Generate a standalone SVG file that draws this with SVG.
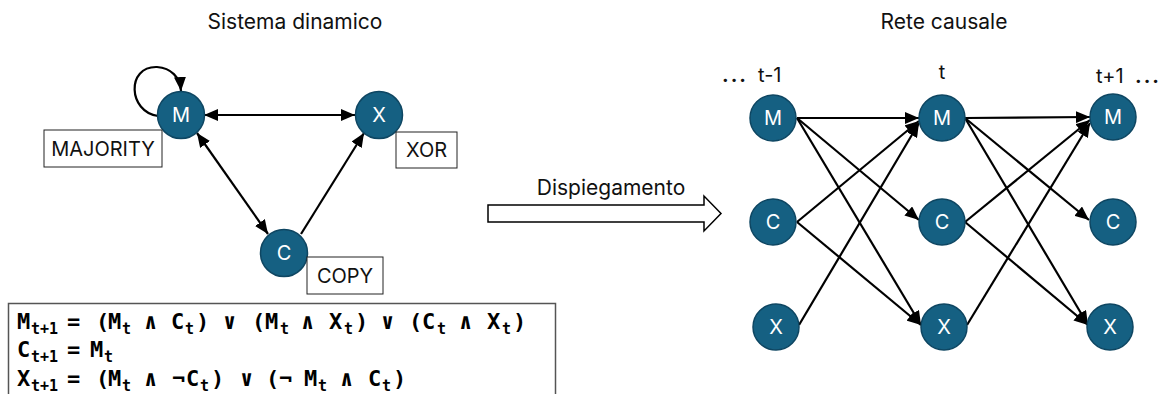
<svg xmlns="http://www.w3.org/2000/svg" width="1160" height="394" viewBox="0 0 1160 394">
  <defs>
    <marker id="arrow" viewBox="0 0 14 12" refX="14" refY="6" markerWidth="14" markerHeight="12" markerUnits="userSpaceOnUse" orient="auto-start-reverse">
      <path d="M0,0 L14,6 L0,12 Z" fill="#000"/>
    </marker>
  </defs>
  <style>
    .lbl { font-family: Inter, "Noto Sans", "Liberation Sans", sans-serif; fill: #111; }
    .title { font-size: 21px; }
    .time { font-size: 20px; }
    .dots { font-weight: bold; letter-spacing: 2px; }
    .node circle { fill: #156082; stroke: #0e4662; stroke-width: 1.5; }
    .node text { font-family: Inter, "Noto Sans", "Liberation Sans", sans-serif; font-size: 20px; fill: #fff; text-anchor: middle; dominant-baseline: central; }
    .box { fill: #fff; stroke: #222; stroke-width: 1; }
    .boxtxt { font-size: 20px; text-anchor: middle; }
    .edge { stroke: #000; stroke-width: 2.2; fill: none; }
    .eq { font-family: "DejaVu Sans Mono", "Liberation Mono", monospace; font-weight: bold; font-size: 22px; fill: #000; }
    .sub { font-size: 15px; }
  </style>

  <rect width="1160" height="394" fill="#fff"/>

  <!-- section titles -->
  <text class="lbl title" x="295" y="29" text-anchor="middle">Sistema dinamico</text>
  <text class="lbl title" x="944" y="29" text-anchor="middle">Rete causale</text>

  <!-- connectors -->
  <g id="connectors">
    <!-- dynamic system -->
    <path class="edge" d="M158,116 C128,112 126,66 157,67 C171,68 180,77 181,91" marker-end="url(#arrow)"/>
    <line class="edge" x1="204" y1="115" x2="355" y2="115" marker-start="url(#arrow)" marker-end="url(#arrow)"/>
    <line class="edge" x1="197" y1="133" x2="268" y2="234" marker-start="url(#arrow)" marker-end="url(#arrow)"/>
    <line class="edge" x1="301" y1="234" x2="364" y2="133" marker-end="url(#arrow)"/>

    <!-- unrolled network: t-1 to t -->
    <line class="edge" x1="797" y1="118" x2="919" y2="118" marker-end="url(#arrow)"/>
    <line class="edge" x1="797" y1="118" x2="919" y2="220" marker-end="url(#arrow)"/>
    <line class="edge" x1="797" y1="118" x2="921" y2="325" marker-end="url(#arrow)"/>
    <line class="edge" x1="797" y1="222" x2="919" y2="121" marker-end="url(#arrow)"/>
    <line class="edge" x1="797" y1="222" x2="921" y2="325" marker-end="url(#arrow)"/>
    <line class="edge" x1="799" y1="325" x2="919" y2="123" marker-end="url(#arrow)"/>

    <!-- unrolled network: t to t+1 -->
    <line class="edge" x1="965" y1="118" x2="1090" y2="117" marker-end="url(#arrow)"/>
    <line class="edge" x1="965" y1="118" x2="1089" y2="220" marker-end="url(#arrow)"/>
    <line class="edge" x1="965" y1="118" x2="1088" y2="325" marker-end="url(#arrow)"/>
    <line class="edge" x1="965" y1="222" x2="1090" y2="120" marker-end="url(#arrow)"/>
    <line class="edge" x1="965" y1="222" x2="1088" y2="325" marker-end="url(#arrow)"/>
    <line class="edge" x1="967" y1="325" x2="1090" y2="123" marker-end="url(#arrow)"/>
  </g>

  <!-- dynamic system nodes -->
  <g id="sys-M" class="node"><circle cx="181" cy="115" r="23.5"/><text x="181" y="115">M</text></g>
  <g id="sys-X" class="node"><circle cx="379" cy="115" r="23.5"/><text x="379" y="115">X</text></g>
  <g id="sys-C" class="node"><circle cx="284" cy="253" r="23.5"/><text x="284" y="253">C</text></g>

  <!-- rule labels -->
  <g id="lbl-majority"><rect class="box" x="44" y="130" width="118" height="37"/><text class="lbl boxtxt" x="103" y="156">MAJORITY</text></g>
  <g id="lbl-xor"><rect class="box" x="396" y="132" width="61" height="36"/><text class="lbl boxtxt" x="426.5" y="157">XOR</text></g>
  <g id="lbl-copy"><rect class="box" x="307" y="257" width="76" height="37"/><text class="lbl boxtxt" x="345" y="283">COPY</text></g>

  <!-- unfolding arrow -->
  <g id="unfold">
    <polygon points="488,205 704,205 704,196 721,213.5 704,231 704,222 488,222" fill="#fff" stroke="#000" stroke-width="1.5"/>
    <text class="lbl title" x="611" y="195" text-anchor="middle">Dispiegamento</text>
  </g>

  <!-- time labels -->
  <text class="lbl time" y="82"><tspan class="dots" x="722">...</tspan><tspan x="758">t-1</tspan></text>
  <text class="lbl time" x="942" y="79" text-anchor="middle">t</text>
  <text class="lbl time" y="83"><tspan x="1096">t+1</tspan><tspan class="dots" x="1135">...</tspan></text>

  <!-- unrolled network nodes -->
  <g id="M-tm1" class="node"><circle cx="773" cy="118" r="23"/><text x="773" y="118">M</text></g>
  <g id="C-tm1" class="node"><circle cx="773" cy="222" r="23"/><text x="773" y="222">C</text></g>
  <g id="X-tm1" class="node"><circle cx="776" cy="327" r="23"/><text x="776" y="327">X</text></g>
  <g id="M-t" class="node"><circle cx="942" cy="118" r="23"/><text x="942" y="118">M</text></g>
  <g id="C-t" class="node"><circle cx="942" cy="222" r="23"/><text x="942" y="222">C</text></g>
  <g id="X-t" class="node"><circle cx="944" cy="327" r="23"/><text x="944" y="327">X</text></g>
  <g id="M-tp1" class="node"><circle cx="1113" cy="117" r="23"/><text x="1113" y="117">M</text></g>
  <g id="C-tp1" class="node"><circle cx="1113" cy="222" r="23"/><text x="1113" y="222">C</text></g>
  <g id="X-tp1" class="node"><circle cx="1110" cy="327" r="23"/><text x="1110" y="327">X</text></g>

  <!-- update rules -->
  <g id="equations">
    <rect x="8.5" y="303.5" width="547" height="100" fill="#fff" stroke="#555" stroke-width="1.5"/>
    <text class="eq" y="329">
      <tspan x="17">M</tspan><tspan class="sub" x="31" dy="5">t+1</tspan><tspan x="67" dy="-5">=</tspan>
      <tspan x="96">(</tspan><tspan x="108">M</tspan><tspan class="sub" x="122" dy="5">t</tspan><tspan x="144" dy="-5">∧</tspan><tspan x="171">C</tspan><tspan class="sub" x="185" dy="5">t</tspan><tspan x="196" dy="-5">)</tspan>
      <tspan x="223">∨</tspan>
      <tspan x="252">(</tspan><tspan x="265">M</tspan><tspan class="sub" x="280" dy="5">t</tspan><tspan x="301" dy="-5">∧</tspan><tspan x="329">X</tspan><tspan class="sub" x="344" dy="5">t</tspan><tspan x="355" dy="-5">)</tspan>
      <tspan x="381">∨</tspan>
      <tspan x="409">(</tspan><tspan x="422">C</tspan><tspan class="sub" x="437" dy="5">t</tspan><tspan x="459" dy="-5">∧</tspan><tspan x="487">X</tspan><tspan class="sub" x="502" dy="5">t</tspan><tspan x="513" dy="-5">)</tspan>
    </text>
    <text class="eq" y="357">
      <tspan x="17">C</tspan><tspan class="sub" x="31" dy="5">t+1</tspan><tspan x="67" dy="-5">=</tspan>
      <tspan x="90">M</tspan><tspan class="sub" x="104" dy="5">t</tspan>
    </text>
    <text class="eq" y="386">
      <tspan x="17">X</tspan><tspan class="sub" x="31" dy="5">t+1</tspan><tspan x="67" dy="-5">=</tspan>
      <tspan x="96">(</tspan><tspan x="108">M</tspan><tspan class="sub" x="122" dy="5">t</tspan><tspan x="144" dy="-5">∧</tspan><tspan x="172">¬</tspan><tspan x="186">C</tspan><tspan class="sub" x="200" dy="5">t</tspan><tspan x="211" dy="-5">)</tspan>
      <tspan x="240">∨</tspan>
      <tspan x="266">(</tspan><tspan x="279">¬</tspan><tspan x="304">M</tspan><tspan class="sub" x="318" dy="5">t</tspan><tspan x="340" dy="-5">∧</tspan><tspan x="368">C</tspan><tspan class="sub" x="382" dy="5">t</tspan><tspan x="393" dy="-5">)</tspan>
    </text>
  </g>
</svg>
